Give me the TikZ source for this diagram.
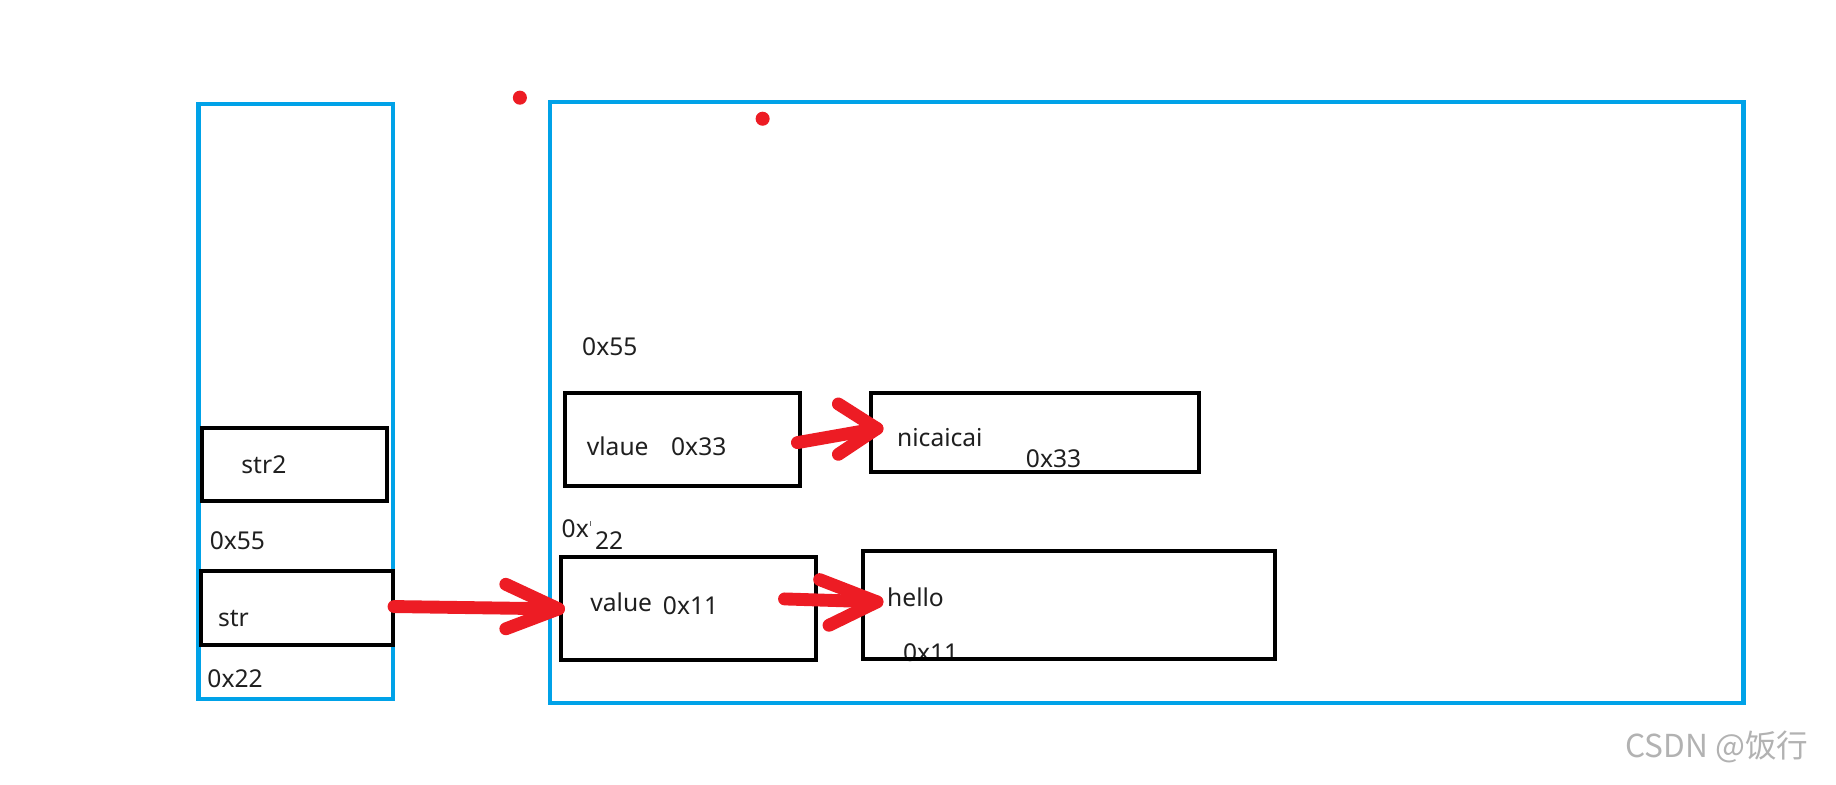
\documentclass[tikz,border=0pt]{standalone}
\usepackage{fontspec}
\setmainfont{Noto Sans}
\newfontfamily\cjk{Noto Sans CJK SC}
\definecolor{pblue}{HTML}{00A2E8}
\definecolor{pred}{HTML}{ED1C24}
\begin{document}
\begin{tikzpicture}[x=1pt,y=-1pt,
  frame/.style={draw=pblue,line width=3.5pt,inner sep=0pt,outer sep=0pt},
  cell/.style={draw=black,line width=3.3pt,inner sep=0pt,outer sep=0pt},
  lbl/.style={anchor=base west,inner sep=0pt,font=\fontsize{21}{25}\selectfont,text=black!88},
  rarrow/.style={draw=pred,line width=11pt,line cap=round,line join=round},
  dot/.style={circle,fill=pred,inner sep=0pt,minimum size=12pt}]
\useasboundingbox[fill=white] (0,0) rectangle (1568,669.6);

% frames
\node[frame,minimum width=166pt,minimum height=508pt] (stack) at (252.5,343) {};
\node[frame,minimum width=1019pt,minimum height=513pt] (heap) at (979.5,343.5) {};

% red dots
\node[dot] (d1) at (444,83.4) {};
\node[dot] (d2) at (651.3,101.4) {};

% labels
\node[lbl] (tstr2) at (206,404) {str2};
\node[lbl] (t55a) at (179,469) {0x55};
\node[lbl] (tstr) at (186,535) {str};
\node[lbl] (t22a) at (177,587) {0x22};
\node[lbl] (t55b) at (497,304) {0x55};
\node[lbl] (tvlaue) at (501,389) {vlaue};
\node[lbl] (t33a) at (573,389) {0x33};
\node[lbl] (tnic) at (766,381) {nicaicai};
\node[lbl] (t33b) at (876,399) {0x33};
\node[lbl] (t0x) at (479.5,459) {0x};
\draw[black!60,line width=1pt] (504.5,445) -- (504.5,449);
\node[lbl] (t22b) at (508,469) {22};
\node[lbl] (tvalue) at (504,522) {value};
\node[lbl] (t11a) at (566,524.5) {0x11};
\node[lbl] (thello) at (757.5,518) {hello};
\node[lbl] (t11b) at (771,565) {0x11};

% cells
\node[cell,minimum width=157.8pt,minimum height=62pt] (str2) at (251.6,396.6) {};
\node[cell,minimum width=164.1pt,minimum height=63.2pt] (str) at (253.45,519.4) {};
\node[cell,minimum width=200.5pt,minimum height=79.5pt] (vlaue) at (582.75,375.25) {};
\node[cell,minimum width=280pt,minimum height=67.5pt] (nic) at (884,369.25) {};
\node[cell,minimum width=218pt,minimum height=88.3pt] (value) at (588,519.55) {};
\node[cell,minimum width=352pt,minimum height=92.5pt] (hello) at (913,516.75) {};

% arrow points
\coordinate (a1s) at (336.5,518);
\coordinate (a1t) at (477,520);
\coordinate (a1u) at (432,499);
\coordinate (a1l) at (432,537);
\coordinate (a2s) at (681,378);
\coordinate (a2t) at (749,366);
\coordinate (a2u) at (716,345);
\coordinate (a2l) at (716,388);
\coordinate (a3s) at (670,511.5);
\coordinate (a3t) at (749,514);
\coordinate (a3u) at (700,495);
\coordinate (a3l) at (708,534);

\draw[rarrow] (a1s) -- (a1t);
\draw[rarrow] (a1u) -- (a1t) -- (a1l);
\draw[rarrow] (a2s) -- (a2t);
\draw[rarrow] (a2u) -- (a2t) -- (a2l);
\draw[rarrow] (a3s) -- (a3t);
\draw[rarrow] (a3u) -- (a3t) -- (a3l);

% watermark
\node[anchor=base west,inner sep=0pt,font=\cjk\fontsize{27}{31}\selectfont,text=black!30] (wm) at (1388,647) {CSDN @饭行};
\end{tikzpicture}
\end{document}
